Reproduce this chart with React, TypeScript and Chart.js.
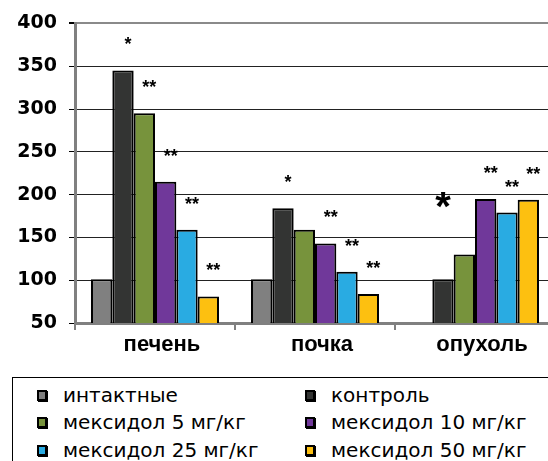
import React, { useEffect, useRef } from "react";
import { Chart, registerables } from "chart.js";

Chart.register(...registerables);

const categories = ["печень", "почка", "опухоль"];
const seriesNames = [
  "интактные",
  "контроль",
  "мексидол 5 мг/кг",
  "мексидол 10 мг/кг",
  "мексидол 25 мг/кг",
  "мексидол 50 мг/кг",
];
const intact = [101, 101, null];
const control = [345, 184, 101];
const mex5 = [295, 159, 130];
const mex10 = [215, 143, 195];
const mex25 = [159, 110, 179];
const mex50 = [81, 84, 194];

const starsIntact = ["", "", ""];
const starsControl = ["*", "*", "*"];
const starsMex5 = ["**", "", ""];
const starsMex10 = ["**", "**", "**"];
const starsMex25 = ["**", "**", "**"];
const starsMex50 = ["**", "**", "**"];
// [seriesIndex, categoryIndex] of the large asterisk
const largeStars = [[1, 2]];

const yTicks = [50, 100, 150, 200, 250, 300, 350, 400];

const colors = ["#808080", "#333433", "#77933C", "#70389A", "#29ABE2", "#FDC010"];

const allSeries = [intact, control, mex5, mex10, mex25, mex50];
const allStars = [starsIntact, starsControl, starsMex5, starsMex10, starsMex25, starsMex50];

const starPlugin = {
  id: "stars",
  afterDatasetsDraw(chart: any) {
    const ctx = chart.ctx;
    ctx.save();
    ctx.fillStyle = "#000";
    ctx.textAlign = "center";
    ctx.textBaseline = "alphabetic";
    allStars.forEach((stars, i) => {
      const meta = chart.getDatasetMeta(i);
      stars.forEach((s, j) => {
        if (!s) return;
        const el = meta.data[j];
        if (!el) return;
        const big = largeStars.some(([a, b]) => a === i && b === j);
        if (big) {
          ctx.font = "bold 40px 'Liberation Sans', Arial, sans-serif";
          ctx.fillText(s, el.x, el.y - 59);
        } else {
          ctx.font = "bold 18px 'Liberation Sans', Arial, sans-serif";
          ctx.fillText(s, el.x + 5, el.y - 20);
        }
      });
    });
    ctx.restore();
  },
};

const CANVAS_W = 560;
const CANVAS_H = 372;

export default function App() {
  const ref = useRef<HTMLCanvasElement | null>(null);

  useEffect(() => {
    if (!ref.current) return;
    const chart = new Chart(ref.current, {
      type: "bar",
      data: {
        labels: categories,
        datasets: allSeries.map((d, i) => ({
          label: seriesNames[i],
          data: d,
          backgroundColor: colors[i],
          borderColor: "#000",
          borderWidth: 2,
          categoryPercentage: 0.8,
          barPercentage: 1.0,
        })),
      },
      options: {
        responsive: false,
        animation: false,
        layout: { padding: { top: 22, right: 5, left: 0, bottom: 0 } },
        plugins: {
          legend: { display: false },
          tooltip: { enabled: false },
        },
        scales: {
          x: {
            grid: {
              offset: true,
              drawOnChartArea: false,
              drawTicks: true,
              tickLength: 7,
              color: "#808080",
              lineWidth: 2,
            },
            border: { color: "#808080", width: 3 },
            ticks: {
              color: "#000",
              padding: 2,
              labelOffset: 7,
              font: { family: "'Liberation Sans', Arial, sans-serif", size: 22, weight: "bold" },
            },
            afterFit: (scale: any) => {
              scale.height = CANVAS_H - 323;
            },
          },
          y: {
            min: 50,
            max: 400,
            afterBuildTicks: (scale: any) => {
              scale.ticks = yTicks.map((v) => ({ value: v }));
            },
            grid: {
              color: (c: any) => (c.tick && c.tick.value === 400 ? "#8a8a8a" : "#222"),
              lineWidth: (c: any) => (c.tick && c.tick.value === 400 ? 2 : 1),
              tickLength: 6,
              tickColor: "#000",
            },
            border: { color: "#808080", width: 3 },
            ticks: {
              color: "#000",
              padding: 12,
              font: { family: "'DejaVu Sans', sans-serif", size: 19, weight: "bold" },
            },
            afterFit: (scale: any) => {
              scale.width = 75;
            },
          },
        },
      },
      plugins: [starPlugin],
    });
    return () => chart.destroy();
  }, []);

  const legendRows = [396, 423, 451];
  const legendCols = [37, 305];

  return (
    <div
      style={{
        position: "fixed",
        left: 0,
        top: 0,
        width: 548,
        height: 461,
        overflow: "hidden",
        background: "#fff",
      }}
    >
      <canvas
        ref={ref}
        width={CANVAS_W}
        height={CANVAS_H}
        style={{ position: "absolute", left: 0, top: 0, width: CANVAS_W, height: CANVAS_H }}
      />
      <div
        style={{
          position: "absolute",
          left: 12,
          top: 377,
          width: 600,
          height: 150,
          border: "1px solid #000",
          boxSizing: "border-box",
        }}
      />
      {seriesNames.map((name, i) => {
        const row = Math.floor(i / 2);
        const col = i % 2;
        return (
          <div
            key={name}
            style={{
              position: "absolute",
              left: legendCols[col],
              top: legendRows[row] - 15,
              height: 28,
              display: "flex",
              alignItems: "center",
              whiteSpace: "nowrap",
              fontFamily: "'DejaVu Sans', sans-serif",
              fontSize: 20,
              color: "#000",
            }}
          >
            <span
              style={{
                display: "inline-block",
                width: 6,
                height: 7,
                border: "2px solid #000",
                background: colors[i],
                marginRight: 16,
                boxShadow: "1px 1px 0 #000",
              }}
            />
            <span>{name}</span>
          </div>
        );
      })}
    </div>
  );
}
